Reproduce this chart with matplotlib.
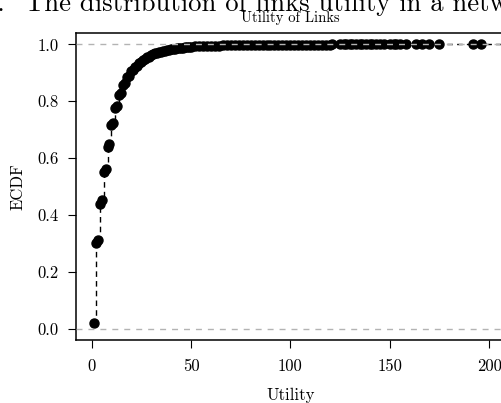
import matplotlib
matplotlib.use("Agg")
import matplotlib.pyplot as plt

# ECDF of link utility: knot positions and cumulative share at each knot
utility = [1, 2, 3, 4, 5, 6, 7, 8, 9, 10,
           11, 12, 13, 14, 15, 16, 17, 18, 19, 20,
           21, 22, 23, 24, 25, 26, 27, 28, 29, 30,
           31, 32, 33, 34, 35, 36, 37, 38, 39, 40,
           41, 42, 43, 44, 45, 46, 47, 48, 49, 50,
           52, 54, 56, 58, 60, 62, 64, 66, 68, 70,
           72, 74, 76, 78, 80, 82, 84, 86, 88, 90,
           92, 94, 96, 98, 100, 102, 104, 106, 108, 110,
           112, 114, 116, 118, 120, 121,
           125, 127, 128, 130, 131, 133, 135, 136, 138, 140,
           141, 143, 145, 147, 150, 152, 153, 155, 158,
           163, 166, 170, 175, 192, 196]
ecdf = [0.020, 0.300, 0.312, 0.440, 0.452, 0.550, 0.560, 0.640, 0.650, 0.715,
        0.724, 0.775, 0.783, 0.822, 0.829, 0.857, 0.863, 0.885, 0.890, 0.905,
        0.910, 0.921, 0.925, 0.934, 0.938, 0.945, 0.948, 0.954, 0.957, 0.962,
        0.965, 0.968, 0.970, 0.972, 0.974, 0.976, 0.978, 0.980, 0.981, 0.982,
        0.984, 0.985, 0.986, 0.987, 0.988, 0.989, 0.990, 0.990, 0.991, 0.992,
        0.993, 0.993, 0.994, 0.995, 0.995, 0.996, 0.996, 0.997, 0.997, 0.997,
        0.998, 0.998, 0.998, 0.998, 0.998, 0.999, 0.999, 0.999, 0.999, 0.999,
        0.999, 0.999, 0.999, 0.999, 0.9992, 0.9992, 0.9993, 0.9993, 0.9993, 0.9994,
        0.9994, 0.9994, 0.9995, 0.9995, 0.9995, 0.9996,
        0.9996, 0.9996, 0.9997, 0.9997, 0.9997, 0.9997, 0.9998, 0.9998, 0.9998, 0.9998,
        0.9998, 0.9998, 0.9999, 0.9999, 0.9999, 0.9999, 0.9999, 0.9999, 0.9999,
        0.9999, 1.0, 1.0, 1.0, 1.0, 1.0]
xticks = [0, 50, 100, 150, 200]
yticks = [0.0, 0.2, 0.4, 0.6, 0.8, 1.0]

plt.rcParams["font.family"] = "cmr10"
plt.rcParams["mathtext.fontset"] = "cm"
plt.rcParams["axes.formatter.use_mathtext"] = True

fig = plt.figure(figsize=(5.01, 4.03), dpi=100)
ax = fig.add_axes([0.1511, 0.1563, 0.8569, 0.7618])

# step function (dashed), extended to the right edge
ax.step(utility + [212], ecdf + [ecdf[-1]], where="post",
        color="black", lw=1.0, ls=(0, (4, 3)), zorder=2)
ax.plot(utility, ecdf, "o", color="black", ms=6.5, mec="black", zorder=3)

# reference lines at 0 and 1 on top
for h in (0.0, 1.0):
    ax.axhline(h, color="#b3b3b3", lw=1.0, ls=(0, (4.3, 4.3)), zorder=4)

ax.set_xlim(-8, 208)
ax.set_ylim(-0.04, 1.04)
ax.set_xticks(xticks)
ax.set_yticks(yticks)
ax.set_xticklabels([str(t) for t in xticks])
ax.set_yticklabels(["%.1f" % t for t in yticks])
ax.tick_params(direction="out", length=5.5, width=0.8, labelsize=12, pad=7)
ax.tick_params(axis="x", pad=8)
for s in ax.spines.values():
    s.set_linewidth(1.1)

ax.set_xlabel("Utility", fontsize=12, labelpad=10)
ax.set_ylabel("ECDF", fontsize=12, labelpad=8)
ax.set_title("Utility of Links", fontsize=10.5, pad=8)

# caption line from the document above the plot
fig.text(25 / 501, 1 - 11 / 403, "The distribution of links utility in a network",
         fontsize=19.2, ha="left", va="baseline")
fig.text(5 / 501, 1 - 11 / 403, "Figure 1.", fontsize=19.2, ha="right", va="baseline")

fig.savefig("out.png", dpi=100)
